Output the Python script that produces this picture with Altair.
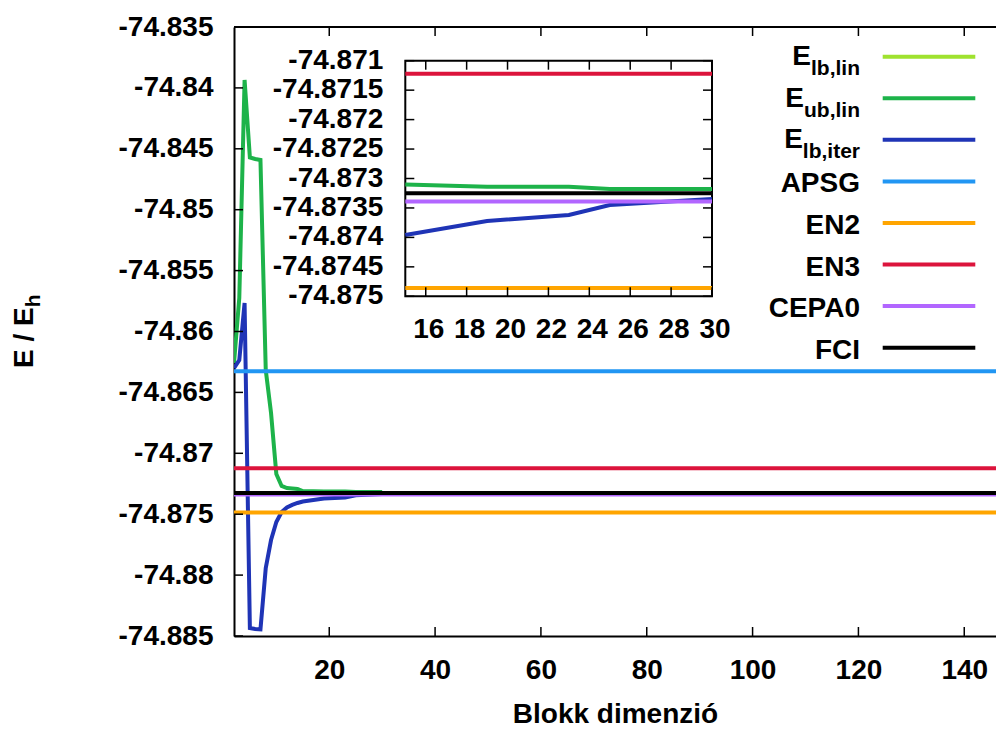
import altair as alt
import pandas as pd

FONT = "Liberation Sans"

# ---------------- data ----------------
series = ["E_lb,lin", "E_ub,lin", "E_lb,iter", "APSG", "EN2", "EN3", "CEPA0", "FCI"]
colors = ["#9fe22f", "#1db34a", "#1f34b6", "#2196f3", "#ffa500", "#dc143c", "#b266ff", "#000000"]
legend_main = ["E", "E", "E", "APSG", "EN2", "EN3", "CEPA0", "FCI"]
legend_sub = ["lb,lin", "ub,lin", "lb,iter", "", "", "", "", ""]

lblin_x = [2]
lblin_E = [-74.8626]

ub_x = [2, 3, 4, 5, 6, 7, 8, 9, 10, 11, 12, 13, 14, 15, 19, 23, 25, 30]
ub_E = [-74.86259, -74.85725, -74.83935, -74.84571, -74.84584, -74.84592, -74.86316,
        -74.86669, -74.87170, -74.87268, -74.87285, -74.87289, -74.87293, -74.87310,
        -74.87314, -74.87314, -74.87318, -74.87318]

lbiter_x = [2, 3, 4, 5, 6, 7, 8, 9, 10, 11, 12, 13, 14, 15, 19, 23, 25, 30]
lbiter_E = [-74.86300, -74.86234, -74.85766, -74.88434, -74.88442, -74.88446, -74.87942,
            -74.87712, -74.87564, -74.87482, -74.87445, -74.87424, -74.87408, -74.87396,
            -74.87372, -74.87362, -74.87345, -74.87335]

ref_names = ["APSG", "EN2", "EN3", "CEPA0", "FCI"]
ref_E = [-74.86327, -74.87486, -74.87122, -74.87339, -74.87325]

main_xdom = [2, 146]
main_ydom = [-74.885, -74.835]
main_xticks = [20, 40, 60, 80, 100, 120, 140]
main_yticks = [-74.885, -74.88, -74.875, -74.87, -74.865, -74.86, -74.855,
               -74.85, -74.845, -74.84, -74.835]

inset_xdom = [15, 30]
inset_ydom = [-74.875, -74.871]
inset_xticks = [16, 18, 20, 22, 24, 26, 28, 30]
inset_xlabels = ["16", "18", "20", "22", "24", "26", "28", "30"]
inset_yticks = [-74.875, -74.8745, -74.874, -74.8735, -74.873, -74.8725, -74.872,
                -74.8715, -74.871]
inset_ylabels = ["-74.875", "-74.8745", "-74.874", "-74.8735", "-74.873", "-74.8725",
                 "-74.872", "-74.8715", "-74.871"]

x_title = "Blokk dimenzió"
y_title_main = "E / E"
y_title_sub = "h"

# ---------------- layout ----------------
W, H = 762, 609
IX0, IX1 = 171.3, 478.0
IY0, IY1 = 33.7, 269.3
TICK = 9

curves = pd.concat([
    pd.DataFrame({"x": lblin_x, "E": lblin_E, "series": series[0]}),
    pd.DataFrame({"x": ub_x, "E": ub_E, "series": series[1]}),
    pd.DataFrame({"x": lbiter_x, "E": lbiter_E, "series": series[2]}),
], ignore_index=True)
refs = pd.DataFrame({"series": ref_names, "E": ref_E})

C = alt.Color("series:N", scale=alt.Scale(domain=series, range=colors), legend=None)

txt = dict(font=FONT, fontSize=28, fontWeight="bold", color="black")

X = alt.X("x:Q", scale=alt.Scale(domain=main_xdom, nice=False, zero=False),
          axis=alt.Axis(values=main_xticks, title=x_title, grid=False, ticks=False, tickSize=0,
                        domainColor="black", domainWidth=2,
                        labelFont=FONT, labelFontSize=28, labelFontWeight="bold",
                        labelColor="black", labelPadding=20, labelFlush=False,
                        labelOverlap=False,
                        titleFont=FONT, titleFontSize=28, titleFontWeight="bold",
                        titleColor="black", titlePadding=16))
Y = alt.Y("E:Q", scale=alt.Scale(domain=main_ydom, nice=False, zero=False),
          axis=alt.Axis(values=main_yticks, title=None, grid=False, ticks=False, tickSize=0,
                        domainColor="black", domainWidth=2,
                        labelFont=FONT, labelFontSize=28, labelFontWeight="bold",
                        labelColor="black", labelPadding=21, labelFlush=False,
                        labelOverlap=False, labelExpr="'' + datum.value"))

main_curves = alt.Chart(curves).mark_line(strokeWidth=4, clip=True).encode(x=X, y=Y, color=C)
main_refs = alt.Chart(refs).mark_rule(strokeWidth=4).encode(y=Y, color=C)
xt = pd.DataFrame({"x": main_xticks})
yt = pd.DataFrame({"E": main_yticks})
one = pd.DataFrame({"x": [main_xdom[0]]})
tb = alt.Chart(xt).mark_rule(color="black", strokeWidth=1.5).encode(
    x=X, y=alt.value(H), y2=alt.value(H - TICK))
tt = alt.Chart(xt).mark_rule(color="black", strokeWidth=1.5).encode(
    x=X, y=alt.value(0), y2=alt.value(TICK))
tl = alt.Chart(yt).mark_rule(color="black", strokeWidth=1.5).encode(
    y=Y, x=alt.value(0), x2=alt.value(TICK))
top_border = alt.Chart(one).mark_rule(color="black", strokeWidth=2).encode(
    x=alt.value(0), x2=alt.value(W), y=alt.value(0))
main = alt.layer(main_curves, main_refs, tb, tt, tl, top_border)

# ---------------- inset ----------------
IX = alt.X("x:Q", scale=alt.Scale(domain=inset_xdom, range=[IX0, IX1], nice=False, zero=False),
           axis=None)
IY = alt.Y("E:Q", scale=alt.Scale(domain=inset_ydom, range=[IY1, IY0], nice=False, zero=False),
           axis=None)
box = pd.DataFrame({"x": [inset_xdom[0]], "x2": [inset_xdom[1]],
                    "E": [inset_ydom[0]], "E2": [inset_ydom[1]]})
ibox = alt.Chart(box).mark_rect(fill="white", stroke="black", strokeWidth=2).encode(
    x=IX, x2="x2:Q", y=IY, y2="E2:Q")
icurves = alt.Chart(curves).transform_filter(alt.datum.x >= inset_xdom[0]).mark_line(
    strokeWidth=4).encode(x=IX, y=IY, color=C)
irefs_df = pd.DataFrame([{"series": n, "E": e, "x": xv}
                         for n, e in zip(ref_names, ref_E) for xv in inset_xdom])
irefs = alt.Chart(irefs_df).mark_line(strokeWidth=4).encode(x=IX, y=IY, color=C)
ixt = pd.DataFrame({"x": inset_xticks, "lab": inset_xlabels})
iyt = pd.DataFrame({"E": inset_yticks, "lab": inset_ylabels})
itb = alt.Chart(ixt).mark_rule(color="black", strokeWidth=1.5).encode(
    x=IX, y=alt.value(IY1), y2=alt.value(IY1 - TICK))
itt = alt.Chart(ixt).mark_rule(color="black", strokeWidth=1.5).encode(
    x=IX, y=alt.value(IY0), y2=alt.value(IY0 + TICK))
itl = alt.Chart(iyt).mark_rule(color="black", strokeWidth=1.5).encode(
    y=IY, x=alt.value(IX0), x2=alt.value(IX0 + TICK))
itr = alt.Chart(iyt).mark_rule(color="black", strokeWidth=1.5).encode(
    y=IY, x=alt.value(IX1 - TICK), x2=alt.value(IX1))
iyl = alt.Chart(iyt).mark_text(align="right", baseline="middle", **txt).encode(
    x=alt.value(IX0 - 22), y=IY, text="lab:N")
ixl = alt.Chart(ixt).mark_text(align="center", baseline="middle", dx=3, **txt).encode(
    x=IX, y=alt.value(303), text="lab:N")
inset = alt.layer(ibox, icurves, irefs, itb, itt, itl, itr, iyl, ixl)

# ---------------- legend & y title ----------------
CW = {"l": 278, "b": 611, ",": 278, "i": 278, "n": 611, "u": 611, "t": 333, "e": 556,
      "r": 389, "E": 667, " ": 278, "/": 278}
def tw(s, size):
    return sum(CW.get(c, 556) for c in s) * size / 1000.0

LX_TEXT, LX1, LX2 = 626, 648.7, 741.3
LY0, LDY = 29.7, 41.57
SUB = 21
rows_line, rows_main, rows_sub = [], [], []
for i, (s, m, sb) in enumerate(zip(series, legend_main, legend_sub)):
    ly = LY0 + LDY * i
    rows_line.append({"series": s, "lx": LX1, "lx2": LX2, "ly": ly})
    if sb:
        w = tw(sb, SUB)
        rows_main.append({"t": m, "tx": LX_TEXT - w, "ty": ly + 8.4})
        rows_sub.append({"t": sb, "tx": LX_TEXT - w, "ty": ly + 18.5})
    else:
        rows_main.append({"t": m, "tx": LX_TEXT, "ty": ly + 11})
PX = lambda f: alt.X(f, scale=None, axis=None)
PY = lambda f: alt.Y(f, scale=None, axis=None)
leg_lines = alt.Chart(pd.DataFrame(rows_line)).mark_rule(strokeWidth=4).encode(
    x=PX("lx:Q"), x2="lx2:Q", y=PY("ly:Q"), color=C)
leg_main = alt.Chart(pd.DataFrame(rows_main)).mark_text(align="right", baseline="alphabetic",
                                                        **txt).encode(
    x=PX("tx:Q"), y=PY("ty:Q"), text="t:N")
leg_sub = alt.Chart(pd.DataFrame(rows_sub)).mark_text(align="left", baseline="alphabetic",
                                                      font=FONT, fontSize=SUB,
                                                      fontWeight="bold", color="black").encode(
    x=PX("tx:Q"), y=PY("ty:Q"), text="t:N")
yt_df = pd.DataFrame({"t": [y_title_main]})
ys_df = pd.DataFrame({"t": [y_title_sub]})
YT_Y = 341
ytitle = alt.Chart(yt_df).mark_text(align="left", baseline="alphabetic", angle=270, **txt).encode(
    x=alt.value(-201), y=alt.value(YT_Y), text="t:N")
ysub = alt.Chart(ys_df).mark_text(align="left", baseline="alphabetic", angle=270, font=FONT,
                                  fontSize=SUB, fontWeight="bold", color="black").encode(
    x=alt.value(-194), y=alt.value(YT_Y - tw(y_title_main, 28)), text="t:N")
legend = alt.layer(leg_lines, leg_main, leg_sub, ytitle, ysub)

chart = alt.layer(main, inset, legend).resolve_scale(x="independent", y="independent").properties(
    width=W, height=H,
    padding={"left": 226, "top": 19, "right": 0, "bottom": 94},
    autosize=alt.AutoSizeParams(type="none"),
).configure_view(strokeWidth=0)

chart.save("out.html", embed_options={"renderer": "svg", "actions": False})
